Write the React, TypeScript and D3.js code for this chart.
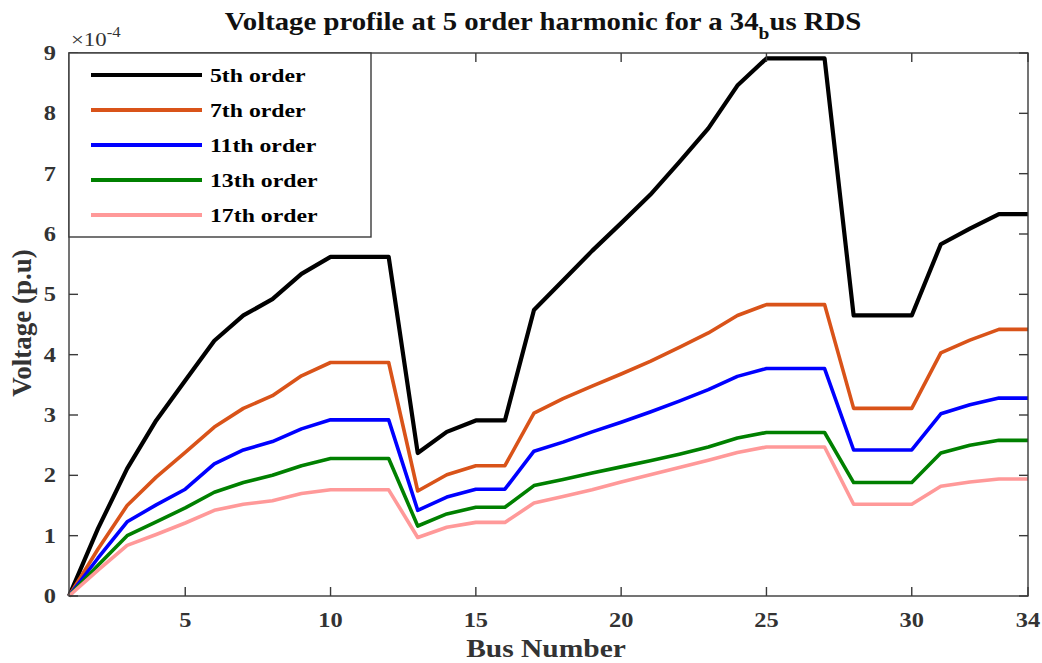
import React from "react";
import * as d3 from "d3";

const buses = d3.range(1, 35);
const seriesNames = ["5th order", "7th order", "11th order", "13th order", "17th order"];
const seriesColors = ["#000000", "#D95319", "#0000FF", "#008000", "#FF9999"];
const v5 = [0, 1.12, 2.11, 2.91, 3.57, 4.23, 4.65, 4.92, 5.34, 5.62, 5.62, 5.62, 2.37, 2.72, 2.91, 2.91, 4.74, 5.23, 5.72, 6.18, 6.65, 7.19, 7.75, 8.46, 8.91, 8.91, 8.91, 4.65, 4.65, 4.65, 5.83, 6.09, 6.33, 6.33];
const v7 = [0, 0.78, 1.5, 1.97, 2.38, 2.8, 3.11, 3.32, 3.65, 3.87, 3.87, 3.87, 1.74, 2.01, 2.16, 2.16, 3.03, 3.27, 3.48, 3.68, 3.89, 4.12, 4.36, 4.65, 4.83, 4.83, 4.83, 3.11, 3.11, 3.11, 4.03, 4.24, 4.42, 4.42];
const v11 = [0, 0.63, 1.23, 1.51, 1.77, 2.19, 2.42, 2.56, 2.77, 2.92, 2.92, 2.92, 1.42, 1.64, 1.77, 1.77, 2.4, 2.55, 2.72, 2.88, 3.05, 3.23, 3.42, 3.64, 3.77, 3.77, 3.77, 2.42, 2.42, 2.42, 3.02, 3.17, 3.28, 3.28];
const v13 = [0, 0.51, 1.0, 1.23, 1.46, 1.72, 1.88, 2.0, 2.16, 2.28, 2.28, 2.28, 1.16, 1.36, 1.47, 1.47, 1.83, 1.93, 2.04, 2.14, 2.24, 2.35, 2.47, 2.62, 2.71, 2.71, 2.71, 1.88, 1.88, 1.88, 2.37, 2.5, 2.58, 2.58];
const v17 = [0, 0.43, 0.84, 1.02, 1.21, 1.42, 1.52, 1.58, 1.7, 1.76, 1.76, 1.76, 0.97, 1.14, 1.22, 1.22, 1.54, 1.65, 1.76, 1.89, 2.01, 2.13, 2.25, 2.38, 2.47, 2.47, 2.47, 1.52, 1.52, 1.52, 1.82, 1.89, 1.94, 1.94];
const seriesValues = [v5, v7, v11, v13, v17];
const xTicks = [5, 10, 15, 20, 25, 30, 34];
const yTicks = [0, 1, 2, 3, 4, 5, 6, 7, 8, 9];

const FONT = "'Liberation Serif', 'Times New Roman', serif";

function T(props: { x: number; y: number; sx?: number; anchor?: string; size: number; bold?: boolean; fill?: string; children: React.ReactNode }) {
  const { x, y, sx = 1.22, anchor = "start", size, bold = true, fill = "#333", children } = props;
  return (
    <text transform={`translate(${x},${y}) scale(${sx},1)`} textAnchor={anchor} fontSize={size} fontWeight={bold ? "bold" : "normal"} fill={fill}>
      {children}
    </text>
  );
}

export default function App() {
  const W = 1042, H = 663;
  const left = 69, right = 1028, top = 53, bottom = 596;
  const x = d3.scaleLinear().domain([1, 34]).range([left, right]);
  const y = d3.scaleLinear().domain([0, 9]).range([bottom, top]);
  const line = d3.line<number>().x((_, i) => x(buses[i])).y((d) => y(d));
  const axisColor = "#3a3a3a";
  const tickLen = 9;
  return (
    <svg width={W} height={H} style={{ position: "absolute", left: 0, top: 0, background: "#fff" }} fontFamily={FONT}>
      <rect width={W} height={H} fill="#fff" />
      <g fill="none" strokeLinejoin="round">
        {seriesValues.map((vals, k) => (
          <path key={k} d={line(vals) || ""} stroke={seriesColors[k]} strokeWidth={k === 0 ? 4.2 : 3.6} />
        ))}
      </g>
      <rect x={left} y={top} width={right - left} height={bottom - top} fill="none" stroke={axisColor} strokeWidth={1.4} />
      {xTicks.map((t) => (
        <g key={"x" + t}>
          <line x1={x(t)} x2={x(t)} y1={bottom} y2={bottom - tickLen} stroke={axisColor} strokeWidth={1.4} />
          <line x1={x(t)} x2={x(t)} y1={top} y2={top + tickLen} stroke={axisColor} strokeWidth={1.4} />
          <T x={x(t)} y={627} anchor="middle" size={20}>{t}</T>
        </g>
      ))}
      {yTicks.map((t) => (
        <g key={"y" + t}>
          <line x1={left} x2={left + tickLen} y1={y(t)} y2={y(t)} stroke={axisColor} strokeWidth={1.4} />
          <line x1={right} x2={right - tickLen} y1={y(t)} y2={y(t)} stroke={axisColor} strokeWidth={1.4} />
          <T x={left - 13} y={y(t) + 7} anchor="end" size={20}>{t}</T>
        </g>
      ))}
      <T x={71} y={46} size={19} bold={false} sx={1.2}>
        ×10<tspan dy={-9} fontSize={14}>-4</tspan>
      </T>
      <rect x={left} y={top} width={302} height={184} fill="#fff" stroke={axisColor} strokeWidth={1.4} />
      {seriesNames.map((n, k) => (
        <g key={n}>
          <line x1={91} x2={202} y1={75 + k * 35} y2={75 + k * 35} stroke={seriesColors[k]} strokeWidth={4} />
          <T x={210} y={82 + k * 35} size={19} sx={1.25} fill="#000">{n}</T>
        </g>
      ))}
      <T x={543} y={30} anchor="middle" size={25} sx={1.15} fill="#111">
        Voltage profile at 5 order harmonic for a 34<tspan dy={9} fontSize={17}>b</tspan><tspan dy={-9}>us RDS</tspan>
      </T>
      <T x={546} y={657} anchor="middle" size={25} sx={1.18}>Bus Number</T>
      <text transform={`translate(31, ${323}) rotate(-90)`} textAnchor="middle" fontSize={27} fontWeight="bold" fill="#333">Voltage (p.u)</text>
    </svg>
  );
}
